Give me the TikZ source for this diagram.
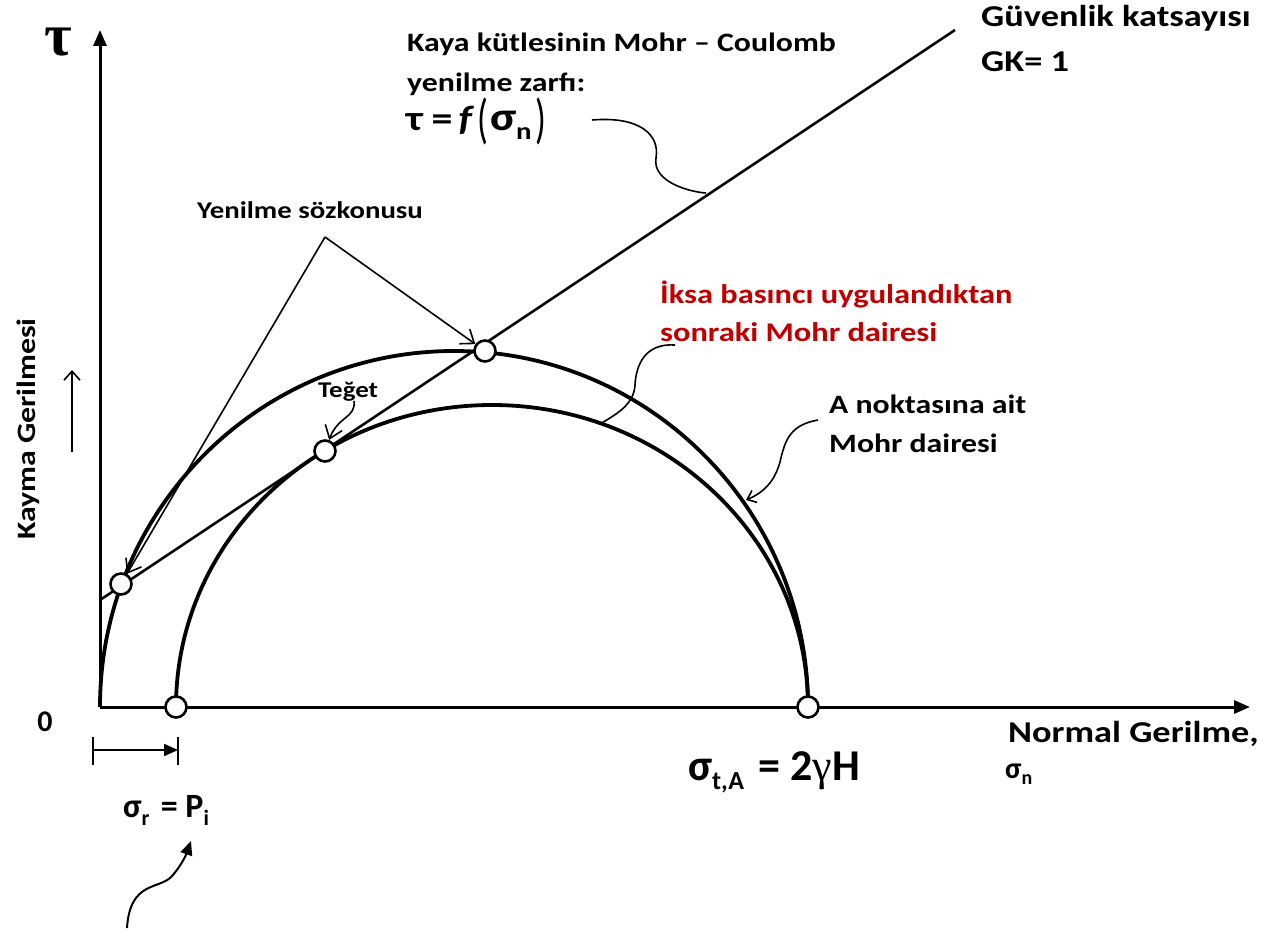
\documentclass[tikz,border=0pt]{standalone}
\usepackage{fontspec}
\setmainfont{Carlito}[FakeStretch=1.2]
\newfontfamily\eqfont{Carlito}
\newfontfamily\taufont{Liberation Serif}
\usetikzlibrary{arrows.meta}
\definecolor{ksred}{RGB}{192,0,0}
\begin{document}
\begin{tikzpicture}[x=1pt,y=1pt,
  axisline/.style={line width=3pt,-{Triangle[length=16pt,width=13pt]}},
  mohrcurve/.style={line width=3.8pt},
  envline/.style={line width=2.6pt},
  pointer/.style={line width=1.6pt,-{Straight Barb[length=12pt,width=18pt]}},
  leader/.style={line width=1.6pt},
  filledptr/.style={line width=2pt,-{Triangle[length=14pt,width=12pt]}},
  tick/.style={line width=2pt},
  mk/.style={circle,draw,fill=white,line width=2.6pt,minimum size=21pt,inner sep=0pt},
  lab/.style={inner sep=0pt,anchor=base west,font=\bfseries\fontsize{26.5}{30}\selectfont},
  labs/.style={inner sep=0pt,anchor=base west,font=\bfseries\fontsize{24}{28}\selectfont},
  labt/.style={inner sep=0pt,anchor=base west,font=\bfseries\fontsize{22.5}{26}\selectfont},
  labb/.style={inner sep=0pt,anchor=base west,font=\bfseries\fontsize{30.3}{34}\selectfont},
  eq/.style={inner sep=0pt,anchor=base west,font=\eqfont\bfseries\fontsize{#1}{#1}\selectfont},
]
\useasboundingbox (0,0) rectangle (1268,-933);
% axes
\coordinate (O) at (100,-707);
\coordinate (ytip) at (100,-30);
\coordinate (xtip) at (1250,-707);
\coordinate (sr) at (176,-707);
\draw[axisline] (O) -- (ytip);
\draw[axisline] (O) -- (xtip);
% Mohr circles
\draw[mohrcurve] (O) arc[start angle=180,end angle=0,x radius=354,y radius=356];
\draw[mohrcurve] (sr) arc[start angle=180,end angle=0,x radius=316,y radius=302];
% envelope
\coordinate (e0) at (100,-600);
\coordinate (e1) at (955,-30);
\draw[envline] (e0) -- (e1);
% markers
\node[mk] (m1) at (121,-584) {};
\node[mk] (m2) at (325,-451) {};
\node[mk] (m3) at (485,-351) {};
\node[mk] (m4) at (sr) {};
\node[mk] (m5) at (808,-707) {};
% axis labels
\node[inner sep=0pt,font=\taufont\bfseries\fontsize{60}{60}\selectfont] (tau) at (58,-42) {τ};
\node[eq=30,anchor=center] (zero) at (45,-722) {0};
\node[inner sep=0pt,rotate=90,anchor=base,font=\bfseries\fontsize{26.5}{30}\selectfont] (kayma) at (35,-429) {Kayma Gerilmesi};
\coordinate (ua0) at (72,-452);
\coordinate (ua1) at (72,-370);
\draw[line width=1.6pt,-{Straight Barb[length=9pt,width=16pt]}] (ua0) -- (ua1);
\node[labb] (norm) at (1008,-742) {Normal Gerilme,};
\node[eq=30] (sn) at (1005,-778) {σ\raisebox{-0.2em}{\fontsize{20}{20}\selectfont n}};
% sigma_t,A
\node[eq=44] (sta) at (688,-780) {σ\raisebox{-0.22em}{\fontsize{26}{26}\selectfont t,A}\,\,= 2{\taufont\mdseries γ}H};
% sigma_r = P_i
\coordinate (d0) at (93,-750);
\coordinate (d1) at (178,-750);
\draw[tick] (93,-737) -- (93,-765);
\draw[tick] (178,-737) -- (178,-765);
\draw[filledptr] (d0) -- (d1);
\node[eq=34] (srp) at (123,-817) {σ\raisebox{-0.25em}{\fontsize{22}{22}\selectfont r}\,\,= P\raisebox{-0.25em}{\fontsize{22}{22}\selectfont i}};
\coordinate (ca0) at (127,-928);
\coordinate (ca1) at (191,-841);
\draw[filledptr] (ca0) .. controls (130,-880) and (160,-890) .. (172,-876) .. controls (181,-866) and (186,-855) .. (ca1);
% envelope label
\node[lab] (kaya1) at (407,-52) {Kaya kütlesinin Mohr – Coulomb};
\node[lab] (kaya2) at (407,-92) {yenilme zarfı:};
\node[inner sep=0pt,anchor=base west,font=\bfseries\fontsize{35}{35}\selectfont] (tauf) at (406,-131) {τ\kern 9pt=\kern 6pt\textit{f}\kern 3pt\raisebox{-0.2em}{\mdseries\scalebox{0.85}[1.55]{(}}\kern 2pt{\fontsize{40}{40}\selectfont σ}\raisebox{-0.25em}{\fontsize{24}{24}\selectfont n}\kern 4pt\raisebox{-0.2em}{\mdseries\scalebox{0.85}[1.55]{)}}};
\coordinate (kc0) at (592,-120);
\coordinate (kc1) at (706,-193);
\draw[leader] (kc0) .. controls (640,-116) and (660,-135) .. (656,-158) .. controls (652,-182) and (690,-192) .. (kc1);
% safety factor
\node[labb] (gk1) at (981,-27) {Güvenlik katsayısı};
\node[labb] (gk2) at (981,-72) {GK= 1};
% failure
\node[labs] (yen) at (197,-219) {Yenilme sözkonusu};
\coordinate (apex) at (325,-237);
\draw[pointer] (apex) -- (m1);
\draw[pointer] (apex) -- (m3);
% tangent
\node[labt] (teg) at (318,-397) {Teğet};
\coordinate (tc0) at (354,-401);
\draw[pointer] (tc0) .. controls (356,-418) and (338,-416) .. (m2);
% red label
\node[lab,font=\bfseries\fontsize{27}{30}\selectfont,text=ksred] (iksa1) at (660,-303) {İksa basıncı uygulandıktan};
\node[lab,font=\bfseries\fontsize{27}{30}\selectfont,text=ksred] (iksa2) at (660,-341) {sonraki Mohr dairesi};
\coordinate (ic0) at (675,-345);
\coordinate (ic1) at (600,-424);
\draw[leader] (ic0) .. controls (645,-343) and (636,-365) .. (635,-385) .. controls (634,-405) and (615,-415) .. (ic1);
% A circle label
\node[lab] (an1) at (829,-413) {A noktasına ait};
\node[lab] (an2) at (829,-452) {Mohr dairesi};
\coordinate (ac0) at (818,-420);
\coordinate (ac1) at (746,-500);
\draw[line width=1.6pt,-{Straight Barb[length=8pt,width=13pt]}] (ac0) .. controls (790,-425) and (785,-440) .. (780,-462) .. controls (775,-480) and (765,-492) .. (ac1);
\end{tikzpicture}
\end{document}
